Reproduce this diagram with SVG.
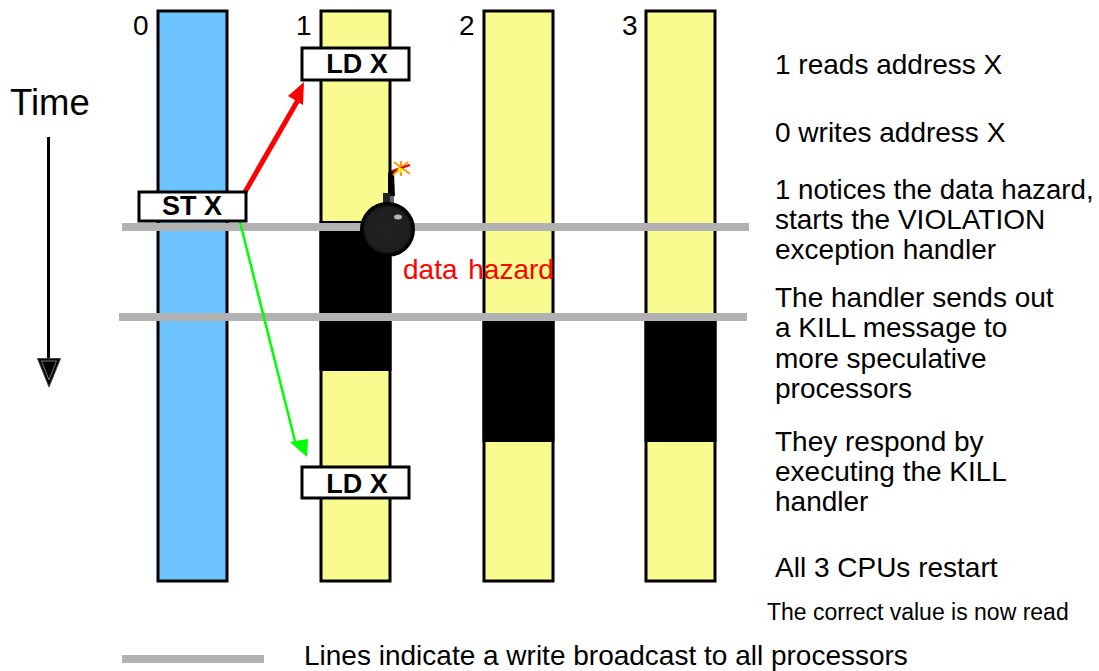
<svg xmlns="http://www.w3.org/2000/svg" width="1099" height="671" viewBox="0 0 1099 671">
<defs>
<radialGradient id="ball" cx="0.5" cy="0.5" r="0.5"><stop offset="0" stop-color="#222"/><stop offset="0.85" stop-color="#1e1e1e"/><stop offset="1" stop-color="#000"/></radialGradient>
</defs>
<style>
text{font-family:"Liberation Sans",Arial,sans-serif;fill:#000}
.t{font-size:28px}
.b{font-size:27px;font-weight:bold}
.bar{stroke:#000;stroke-width:3}
.blk{fill:#000}
.box{fill:#fff;stroke:#000;stroke-width:3}
.gray{fill:#b2b2b2}
</style>
<rect width="1099" height="671" fill="#fff"/>
<g id="cpu0"><rect class="bar" x="158" y="11" width="69" height="570" fill="#6cc3ff"/><text class="t" x="133" y="35">0</text></g>
<g id="cpu1"><rect class="bar" x="321" y="11" width="69" height="570" fill="#f9fb8f"/><rect class="blk" x="319.500" y="221" width="72" height="150"/><text class="t" x="296" y="35">1</text></g>
<g id="cpu2"><rect class="bar" x="484" y="11" width="69" height="570" fill="#f9fb8f"/><rect class="blk" x="482.500" y="319" width="72" height="123"/><text class="t" x="459" y="35">2</text></g>
<g id="cpu3"><rect class="bar" x="646" y="11" width="69" height="570" fill="#f9fb8f"/><rect class="blk" x="644.500" y="319" width="72" height="123"/><text class="t" x="622" y="35">3</text></g>
<g id="broadcast-lines">
<rect class="gray" x="122" y="223" width="627" height="8"/>
<rect class="gray" x="119" y="313" width="628" height="8"/>
<rect class="gray" x="122" y="655" width="142" height="8"/>
</g>
<g id="connectors">
<line x1="245" y1="192" x2="298" y2="100" stroke="#f00" stroke-width="5"/>
<polygon points="304,82 303,105 288,96" fill="#f00"/>
<line x1="240" y1="222" x2="296" y2="445" stroke="#0f0" stroke-width="2.500"/>
<polygon points="307,457 290,442 308,439" fill="#0f0"/>
<line x1="48.500" y1="137" x2="48.500" y2="360" stroke="#000" stroke-width="3"/>
<polygon points="37.500,358.500 60.500,358.500 49,387" fill="#000" stroke="#444" stroke-width="1"/>
<polygon points="41.500,361 56.500,361 49,380" fill="#000" stroke="#777" stroke-width="1"/>
</g>
<g id="st-x"><rect class="box" x="139" y="192" width="107" height="29"/><text class="b" x="192" y="215" text-anchor="middle">ST X</text></g>
<g id="ld-x-1"><rect class="box" x="302" y="48" width="107" height="32"/><text class="b" x="357" y="73" text-anchor="middle">LD X</text></g>
<g id="ld-x-2"><rect class="box" x="302" y="467" width="107" height="31"/><text class="b" x="357" y="493" text-anchor="middle">LD X</text></g>
<g id="bomb">
<polygon points="392,170 398,170 394,173 395,196 388,196 388,173" fill="#000"/>
<rect x="383" y="193" width="7" height="10" fill="#222"/>
<rect x="390" y="196" width="4" height="7" fill="#666"/>
<circle cx="387.500" cy="229.500" r="26" fill="url(#ball)" stroke="#000" stroke-width="3"/>
<ellipse cx="398" cy="217" rx="4" ry="2.500" fill="#b5b5b5"/>
<path d="M394 162L410 174M401 161L401 176M393 175L408 162" stroke="#f90" stroke-width="2"/>
<path d="M392 171L410 165" stroke="#e00" stroke-width="2"/>
<circle cx="400" cy="170" r="2.500" fill="#ee0"/>
</g>
<text x="403" y="279" style="font-size:28px;fill:#f00;word-spacing:3px">data hazard</text>
<g id="notes">
<text x="10" y="115" style="font-size:36.500px">Time</text>
<text class="t" x="775" y="74">1 reads address X</text>
<text class="t" x="775" y="142">0 writes address X</text>
<text x="775" y="199" style="font-size:27.700px">1 notices the data hazard,</text>
<text class="t" x="775" y="229">starts the VIOLATION</text>
<text class="t" x="775" y="259">exception handler</text>
<text class="t" x="775" y="307">The handler sends out</text>
<text class="t" x="775" y="337">a KILL message to</text>
<text class="t" x="775" y="368">more speculative</text>
<text class="t" x="775" y="398">processors</text>
<text class="t" x="775" y="451">They respond by</text>
<text class="t" x="775" y="481">executing the KILL</text>
<text class="t" x="775" y="511">handler</text>
<text class="t" x="775" y="577">All 3 CPUs restart</text>
<text x="767" y="620" style="font-size:23px">The correct value is now read</text>
<text class="t" x="304" y="665">Lines indicate a write broadcast to all processors</text>
</g>
</svg>
